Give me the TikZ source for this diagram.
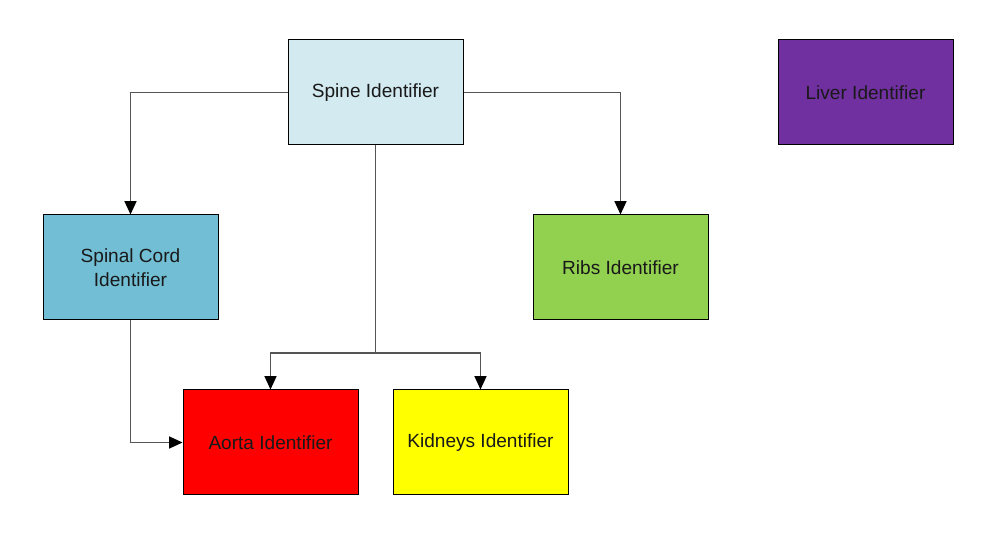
\documentclass[tikz,border=0pt]{standalone}
\usepackage{fontspec}
\setmainfont{Liberation Sans}
\usetikzlibrary{arrows.meta}
\definecolor{spinecol}{HTML}{D2EAF0}
\definecolor{cordcol}{HTML}{72BFD5}
\definecolor{ribscol}{HTML}{92D050}
\definecolor{livercol}{HTML}{7030A0}
\definecolor{aortacol}{HTML}{FF0000}
\definecolor{kidneycol}{HTML}{FFFF00}
\definecolor{linkcol}{HTML}{555555}
\tikzset{
  idbox/.style={draw=black, line width=0.75pt, minimum width=131.25pt, minimum height=78.75pt,
    inner sep=2pt, align=center, text=black!90, font=\fontsize{14.3}{18}\selectfont},
  link/.style={draw=linkcol, line width=1pt, -{Triangle[width=9pt,length=10pt,color=black]}}
}
\begin{document}
\begin{tikzpicture}[x=0.75pt, y=-0.75pt]
    \useasboundingbox (0,0) rectangle (997,534);
    % boxes
    \node[idbox, fill=spinecol] (spine) at (375.5,92.5) {Spine Identifier};
    \node[idbox, fill=livercol] (liver) at (865.5,92.5) {Liver Identifier};
    \node[idbox, fill=cordcol] (cord) at (130.5,267.5) {Spinal Cord\\Identifier};
    \node[idbox, fill=ribscol] (ribs) at (620.5,267.5) {Ribs Identifier};
    \node[idbox, fill=aortacol] (aorta) at (270.5,442.5) {Aorta Identifier};
    \node[idbox, fill=kidneycol] (kidneys) at (480.5,442.5) {Kidneys Identifier};
    \coordinate (split) at (375.5,353);
    % links
    \draw[link] (spine.west) -| (cord.north);
    \draw[link] (spine.east) -| (ribs.north);
    \draw[draw=linkcol, line width=1pt] (spine.south) -- (split);
    \draw[link] (split) -| (aorta.north);
    \draw[link] (split) -| (kidneys.north);
    \draw[link] (cord.south) |- (aorta.west);
\end{tikzpicture}
\end{document}
